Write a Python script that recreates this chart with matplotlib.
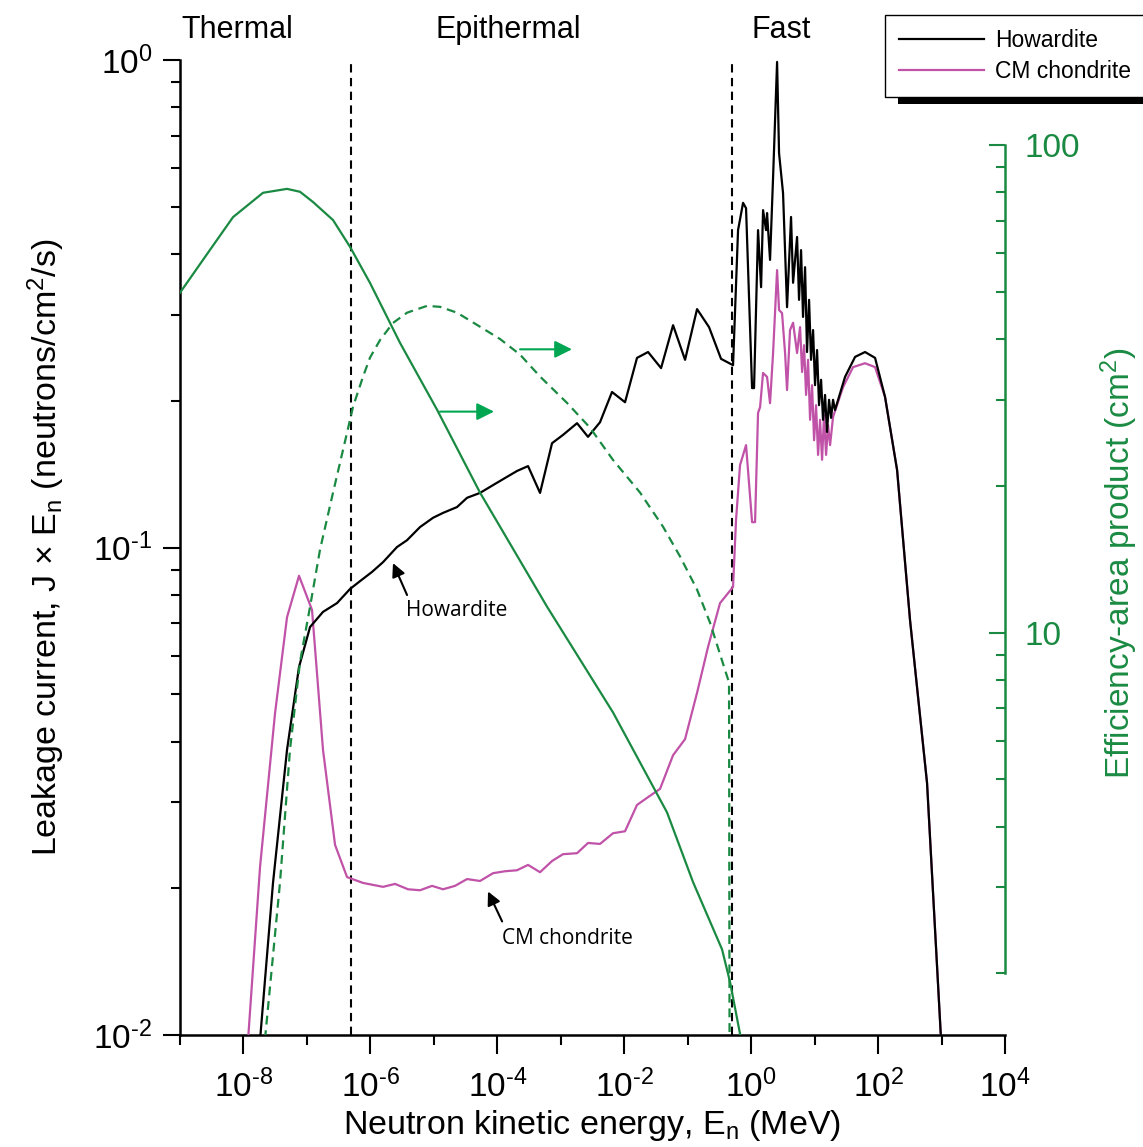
import numpy as np
import matplotlib
matplotlib.use('Agg')
import matplotlib.pyplot as plt
from matplotlib.patches import Rectangle
from matplotlib.ticker import FixedLocator, LogLocator, NullFormatter, FuncFormatter

plt.rcParams['font.family'] = ['Liberation Sans', 'DejaVu Sans']
plt.rcParams['mathtext.fontset'] = 'custom'
plt.rcParams['mathtext.rm'] = 'Liberation Sans'
plt.rcParams['mathtext.it'] = 'Liberation Sans:italic'
plt.rcParams['mathtext.bf'] = 'Liberation Sans:bold'
plt.rcParams['axes.unicode_minus'] = False

# leakage current J x En, stored as log10(E / MeV) and log10(J)
howardite_log_e = [-7.739, -7.535, -7.314, -7.125, -6.951, -6.747, -6.526, -6.321, -6.164, -5.974,
                   -5.801, -5.581, -5.423, -5.218, -5.013, -4.856, -4.635, -4.477, -4.273, -4.068,
                   -3.847, -3.690, -3.516, -3.327, -3.138, -2.965, -2.744, -2.571, -2.382, -2.193,
                   -1.988, -1.799, -1.625, -1.420, -1.231, -1.042, -0.853, -0.664, -0.475, -0.286,
                   -0.207, -0.128, -0.081, 0.014, 0.045, 0.108, 0.156, 0.187, 0.234, 0.250,
                   0.297, 0.345, 0.408, 0.439, 0.502, 0.565, 0.628, 0.660, 0.723, 0.754,
                   0.786, 0.817, 0.849, 0.880, 0.912, 0.943, 0.975, 1.006, 1.038, 1.069,
                   1.101, 1.132, 1.164, 1.195, 1.227, 1.259, 1.290, 1.321, 1.479, 1.637,
                   1.794, 1.952, 2.109, 2.299, 2.503, 2.771, 2.992]
howardite_log_j = [-2.010, -1.688, -1.415, -1.245, -1.163, -1.132, -1.114, -1.085, -1.069, -1.050,
                   -1.030, -0.999, -0.985, -0.958, -0.939, -0.929, -0.917, -0.898, -0.888, -0.872,
                   -0.855, -0.843, -0.833, -0.888, -0.786, -0.769, -0.745, -0.773, -0.743, -0.681,
                   -0.702, -0.611, -0.599, -0.632, -0.544, -0.615, -0.511, -0.548, -0.613, -0.626,
                   -0.349, -0.293, -0.304, -0.673, -0.673, -0.349, -0.466, -0.308, -0.349, -0.314,
                   -0.410, -0.240, -0.004, -0.191, -0.273, -0.507, -0.322, -0.457, -0.363, -0.492,
                   -0.390, -0.527, -0.425, -0.599, -0.492, -0.615, -0.554, -0.667, -0.595, -0.708,
                   -0.656, -0.738, -0.687, -0.763, -0.697, -0.734, -0.697, -0.718, -0.650, -0.609,
                   -0.599, -0.611, -0.691, -0.841, -1.149, -1.483, -2.010]

cm_log_e = [-7.928, -7.739, -7.503, -7.314, -7.125, -6.920, -6.747, -6.557, -6.368, -6.116,
            -5.801, -5.612, -5.407, -5.218, -5.029, -4.856, -4.667, -4.477, -4.273, -4.068,
            -3.879, -3.690, -3.516, -3.327, -3.138, -2.965, -2.744, -2.571, -2.382, -2.177,
            -1.988, -1.799, -1.625, -1.436, -1.231, -1.042, -0.853, -0.680, -0.491, -0.286,
            -0.239, -0.176, -0.081, 0.014, 0.061, 0.108, 0.140, 0.187, 0.250, 0.297,
            0.345, 0.408, 0.439, 0.486, 0.534, 0.565, 0.612, 0.660, 0.723, 0.770,
            0.802, 0.833, 0.865, 0.896, 0.928, 0.959, 0.991, 1.022, 1.054, 1.085,
            1.117, 1.148, 1.180, 1.211, 1.243, 1.290, 1.448, 1.605, 1.794, 1.952,
            2.109, 2.299, 2.503, 2.771, 2.992]
cm_log_j = [-2.010, -1.655, -1.340, -1.143, -1.058, -1.128, -1.415, -1.610, -1.676, -1.688,
            -1.696, -1.690, -1.701, -1.703, -1.694, -1.701, -1.694, -1.680, -1.684, -1.668,
            -1.664, -1.662, -1.651, -1.666, -1.643, -1.629, -1.627, -1.606, -1.608, -1.586,
            -1.582, -1.528, -1.512, -1.495, -1.426, -1.393, -1.298, -1.204, -1.114, -1.081,
            -0.944, -0.831, -0.790, -0.948, -0.948, -0.724, -0.712, -0.642, -0.650, -0.704,
            -0.601, -0.431, -0.513, -0.519, -0.601, -0.677, -0.554, -0.539, -0.601, -0.548,
            -0.640, -0.585, -0.687, -0.615, -0.738, -0.667, -0.780, -0.708, -0.810, -0.738,
            -0.820, -0.728, -0.810, -0.749, -0.790, -0.732, -0.671, -0.630, -0.622, -0.630,
            -0.691, -0.841, -1.149, -1.483, -2.010]

# efficiency-area product (cm2), log10 values, right axis
bare_log_e = [-9.000, -8.527, -8.165, -7.692, -7.314, -7.109, -6.904, -6.589, -6.321, -6.006,
              -5.533, -4.950, -4.273, -3.217, -2.177, -1.326, -0.916, -0.459, -0.333, -0.160]
bare_log_a = [1.697, 1.785, 1.852, 1.902, 1.910, 1.904, 1.883, 1.846, 1.791, 1.717,
              1.594, 1.457, 1.287, 1.053, 0.836, 0.631, 0.488, 0.350, 0.283, 0.166]

cd_log_e = [-7.661, -7.424, -7.267, -7.109, -6.951, -6.794, -6.589, -6.368, -6.274, -6.116,
            -6.006, -5.848, -5.644, -5.423, -5.108, -4.903, -4.635, -4.320, -3.957, -3.642,
            -3.327, -2.902, -2.539, -2.177, -1.751, -1.389, -1.121, -0.853, -0.648, -0.380,
            -0.349, -0.341]
cd_log_a = [0.166, 0.488, 0.760, 0.940, 1.053, 1.170, 1.287, 1.410, 1.463, 1.525,
            1.564, 1.600, 1.635, 1.656, 1.670, 1.668, 1.656, 1.631, 1.602, 1.570,
            1.525, 1.471, 1.420, 1.354, 1.287, 1.217, 1.156, 1.088, 1.020, 0.910,
            0.898, 0.166]

region_bounds = [5e-7, 0.5]
region_names = ['Thermal', 'Epithermal', 'Fast']
region_label_e = [7.9e-9, 1.48e-4, 2.96]

# annotation anchors (E, J)
how_tip, how_tail, how_text = (2.27e-6, 0.0929), (3.78e-6, 0.0799), (3.64e-6, 0.0741)
cm_tip, cm_tail, cm_text = (7.13e-5, 0.0197), (1.19e-4, 0.0171), (1.19e-4, 0.0158)
green_arrows = [((2.28e-4, 0.255), (1.50e-3, 0.255)), ((1.25e-5, 0.190), (8.87e-5, 0.190))]

BLACK = 'k'
MAGENTA = '#c052a8'
GREEN = '#1a8a42'
ARROW_GREEN = '#00a651'


def pow10_label(v, pos):
    # 10^n with a plain short hyphen for negative exponents, as in the original figure
    n = int(round(np.log10(v)))
    exp = ('\u2010' + str(-n)) if n < 0 else str(n)
    return r'$\mathdefault{10^{%s}}$' % exp


fig = plt.figure(figsize=(11.43, 11.47), dpi=100)
ax = fig.add_axes([0.1575, 0.0976, 0.7218, 0.8501])
ax.set_xscale('log')
ax.set_yscale('log')
ax2 = ax.twinx()
ax2.set_yscale('log')

ax.plot(10**np.array(cm_log_e), 10**np.array(cm_log_j), color=MAGENTA, lw=1.6, label='CM chondrite', zorder=3)
ax.plot(10**np.array(howardite_log_e), 10**np.array(howardite_log_j), color=BLACK, lw=1.6, label='Howardite', zorder=4)
ax2.plot(10**np.array(bare_log_e), 10**np.array(bare_log_a), color=GREEN, lw=1.6)
ax2.plot(10**np.array(cd_log_e), 10**np.array(cd_log_a), color=GREEN, lw=1.6, ls=(0, (4, 2.6)))

for e in region_bounds:
    ax.axvline(e, color='k', lw=1.5, ls=(0, (4, 2.6)), zorder=2)

ax.set_xlim(1e-9, 1e4)
ax.set_ylim(1e-2, 1)
ax2.set_ylim(1.494, 149.4)

# ticks
ax.xaxis.set_major_locator(FixedLocator(10.0**np.arange(-8, 5, 2)))
ax.xaxis.set_minor_locator(FixedLocator(10.0**np.arange(-9, 4, 2)))
ax.xaxis.set_major_formatter(FuncFormatter(pow10_label))
ax.xaxis.set_minor_formatter(NullFormatter())
ax.yaxis.set_major_locator(LogLocator(base=10, subs=(1.0,), numticks=10))
ax.yaxis.set_minor_locator(LogLocator(base=10, subs=np.arange(2, 10), numticks=10))
ax.yaxis.set_major_formatter(FuncFormatter(pow10_label))
ax.yaxis.set_minor_formatter(NullFormatter())
ax.tick_params(axis='x', which='major', length=14, width=1.5, labelsize=24, pad=11)
ax.tick_params(axis='x', which='minor', length=7, width=1.5)
ax.tick_params(axis='y', which='major', length=12, width=1.5, labelsize=24, pad=8)
ax.tick_params(axis='y', which='minor', length=6.5, width=1.5)

ax2.yaxis.set_major_locator(LogLocator(base=10, subs=(1.0,), numticks=10))
ax2.yaxis.set_minor_locator(LogLocator(base=10, subs=np.arange(2, 10), numticks=10))
ax2.yaxis.set_major_formatter(FuncFormatter(lambda v, p: f'{v:g}'))
ax2.yaxis.set_minor_formatter(NullFormatter())
ax2.tick_params(axis='y', which='major', direction='in', length=11.5, width=1.5,
                colors=GREEN, labelsize=24, pad=14)
ax2.tick_params(axis='y', which='minor', direction='in', length=6.5, width=1.5, colors=GREEN)

for s in ['top', 'right']:
    ax.spines[s].set_visible(False)
for s in ['top', 'left', 'bottom']:
    ax2.spines[s].set_visible(False)
ax.spines['left'].set_linewidth(1.8)
ax.spines['bottom'].set_linewidth(1.8)
ax2.spines['right'].set_linewidth(1.8)
ax2.spines['right'].set_color(GREEN)
ax2.spines['right'].set_bounds(2, 100)

ax.set_xlabel(r'Neutron kinetic energy, E$_\mathrm{n}$ (MeV)', fontsize=24.5, labelpad=3)
ax.set_ylabel(r'Leakage current, J × E$_\mathrm{n}$ (neutrons/cm$^2$/s)', fontsize=24.5)
ax.yaxis.set_label_coords(-0.137, 0.5)
ax2.set_ylabel(r'Efficiency-area product (cm$^2$)', fontsize=24, color=GREEN)
ax2.yaxis.set_label_coords(1.113, 0.484)

for name, e in zip(region_names, region_label_e):
    ax.text(e, 1.031, name, transform=ax.get_xaxis_transform(), ha='center', va='center', fontsize=22)

# curve labels
ax.annotate('', xy=how_tip, xytext=how_tail,
            arrowprops=dict(arrowstyle='-|>', color='k', lw=1.5, mutation_scale=20, shrinkA=0, shrinkB=0))
ax.text(how_text[0], how_text[1], 'Howardite', fontsize=15, ha='left', va='center', family='Open Sans')
ax.annotate('', xy=cm_tip, xytext=cm_tail,
            arrowprops=dict(arrowstyle='-|>', color='k', lw=1.5, mutation_scale=20, shrinkA=0, shrinkB=0))
ax.text(cm_text[0], cm_text[1], 'CM chondrite', fontsize=15, ha='left', va='center', family='Open Sans')

for start, end in green_arrows:
    ax.annotate('', xy=end, xytext=start,
                arrowprops=dict(arrowstyle='-|>', color=ARROW_GREEN, lw=1.5, mutation_scale=26,
                                shrinkA=0, shrinkB=0))

handles, labels = ax.get_legend_handles_labels()
leg = fig.legend(handles[::-1], labels[::-1], loc='upper left', bbox_to_anchor=(885 / 1143, 1 - 15 / 1147),
                 fontsize=16.5, handlelength=3.7, frameon=True, fancybox=False, framealpha=1,
                 borderaxespad=0, borderpad=0.6, labelspacing=0.35, handletextpad=0.5)
leg.get_frame().set_edgecolor('k')
leg.get_frame().set_linewidth(1.0)
leg.set_zorder(6)

# offset black shadow below the legend box
fig.canvas.draw()
bb = leg.get_window_extent().transformed(fig.transFigure.inverted())
fig.patches.append(Rectangle((bb.x0 + 13 / 1143, bb.y0 - 7 / 1147), bb.width, bb.height,
                             transform=fig.transFigure, facecolor='k', edgecolor='none', zorder=5))

fig.savefig('out.png', dpi=100)
